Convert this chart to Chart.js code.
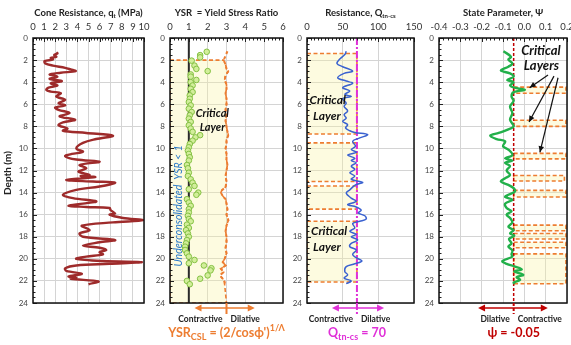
<!DOCTYPE html>
<html>
<head>
<meta charset="utf-8">
<script src="https://cdn.jsdelivr.net/npm/chart.js@4.4.1/dist/chart.umd.min.js"></script>
<style>
  html, body { margin: 0; padding: 0; background: #fff; }
  #wrap { position: relative; width: 571px; height: 345px; overflow: hidden; }
  #wrap canvas { position: absolute; left: 0; top: 0; }
</style>
</head>
<body>
<div id="wrap">
  <canvas id="p1" width="571" height="345"></canvas>
  <canvas id="p2" width="571" height="345"></canvas>
  <canvas id="p3" width="571" height="345"></canvas>
  <canvas id="p4" width="571" height="345"></canvas>
</div>
<script>
// ---------------- data ----------------
const DEPTH_TICKS = [0, 2, 4, 6, 8, 10, 12, 14, 16, 18, 20, 22, 24];

// Cone resistance qt (MPa) vs depth (m)
const QT_TICKS = [0, 1, 2, 3, 4, 5, 6, 7, 8, 9, 10];
const QT_DEPTH = [1.3,1.4,1.55,1.7,1.8,1.95,2.1,2.3,2.5,2.7,2.85,3.0,3.15,3.3,3.5,3.7,3.9,4.1,4.3,4.5,
  4.7,4.85,5.0,5.3,5.6,5.9,6.1,6.3,6.5,6.8,7.1,7.4,7.65,7.9,8.2,8.4,8.6,8.85,9.15,9.5,
  10.0,10.3,10.5,10.7,11.0,11.2,11.5,11.8,12.1,12.4,12.5,12.6,12.85,13.0,13.1,13.45,13.75,14.2,14.5,14.8,
  15.0,15.2,15.3,15.4,15.6,15.9,16.0,16.3,16.5,16.7,17.0,17.4,17.7,18.0,18.3,18.5,18.8,19.0,19.2,19.4,
  19.6,19.8,20.0,20.2,20.3,20.45,20.6,20.85,21.1,21.35,21.6,21.7,21.8,22.05,22.3];
const QT_MPA = [2.1,2.2,1.9,2.1,1.6,1.8,1.05,1.1,1.8,2.9,3.4,3.85,2.5,1.5,2.2,1.5,2.6,1.6,2.2,1.4,
  1.2,1.6,2.5,2.1,2.9,2.3,2.9,2.0,2.3,3.3,2.4,3.8,2.7,2.3,3.1,2.7,4.8,7.2,5.7,4.5,
  3.9,4.5,3.5,2.9,3.9,6.0,4.2,4.8,4.1,5.1,4.3,5.6,3.0,5.4,7.4,6.0,3.9,2.7,3.6,5.7,
  4.5,3.2,4.8,6.9,7.0,7.4,6.9,8.1,9.9,7.2,4.4,5.1,4.2,4.5,7.4,6.0,4.5,6.0,6.6,6.0,
  6.3,4.8,3.9,6.3,9.8,6.9,3.9,2.9,3.0,4.4,3.2,3.9,3.4,5.9,5.0];

// Yield stress ratio
const YSR_TICKS = [0, 1, 2, 3, 4, 5, 6];
const YSR_DEPTH = [1.25,1.55,1.75,2.05,2.5,2.8,3.0,3.3,3.5,3.8,4.0,4.3,4.6,4.9,5.2,5.5,5.8,6.1,6.4,6.7,
  7.0,7.3,7.6,7.9,8.2,8.5,8.8,9.0,9.3,9.6,9.9,10.2,10.5,10.8,11.1,11.5,11.8,12.2,12.5,12.8,
  13.1,13.4,13.7,14.0,14.2,14.6,14.9,15.2,15.5,15.8,16.1,16.4,16.6,16.9,17.2,17.4,17.7,18.0,18.3,18.6,
  18.9,19.2,19.5,19.8,20.1,20.4,20.6,20.85,21.05,21.5,21.8,22.0,22.3];
const YSR_VALUES = [1.95,1.6,1.6,1.15,1.3,1.4,2.0,1.1,1.1,1.4,1.1,1.2,1.1,1.2,1.05,1.05,1.0,1.1,1.0,1.15,
  1.05,1.0,1.1,1.0,1.1,1.2,1.6,1.35,1.2,1.05,1.0,0.95,1.0,1.05,1.0,0.9,0.95,1.0,0.95,1.1,
  1.2,1.3,1.0,1.5,1.4,0.9,1.0,1.1,1.0,1.0,0.95,1.0,1.1,0.9,1.0,0.85,0.95,1.0,0.9,0.85,
  0.8,0.8,0.9,1.0,1.3,1.0,1.8,2.2,2.15,2.0,1.6,0.9,1.05];
const YSR_CSL_DEPTH = [1.2,1.6,2.0,2.4,2.8,3.0,3.4,3.8,4.2,4.6,5.0,5.5,6.0,6.5,7.0,7.5,8.0,8.5,8.8,9.2,
  9.6,10.0,10.5,11.0,11.5,12.0,12.5,13.0,13.5,13.8,14.0,14.3,14.6,15.0,15.5,16.0,16.5,17.0,17.5,18.0,
  18.5,19.0,19.5,20.0,20.3,20.6,20.9,21.2,21.5,21.8,22.1,22.3];
const YSR_CSL_VALUES = [3.05,2.95,2.85,2.95,3.0,3.1,2.95,2.9,3.0,3.0,2.95,3.0,3.0,2.95,3.0,2.95,3.0,3.05,3.1,3.0,
  3.0,2.95,3.0,3.0,3.05,3.0,2.95,3.0,2.95,2.75,2.7,2.8,2.95,3.0,3.05,3.0,3.1,3.0,2.95,3.0,
  3.0,2.95,3.0,2.9,2.8,2.95,2.7,2.85,2.65,2.8,2.9,2.9];
const YSR_UNIT = 1;
const YSR_CSL = 3;
const YSR_LAYER = [2, 24];

// Normalized clean-sand equivalent resistance Qtn-cs
const QTN_TICKS = [0, 50, 100, 150];
const QTN_DEPTH = [1.2,1.5,1.9,2.3,2.6,3.0,3.2,3.6,3.9,4.1,4.5,4.8,5.1,5.3,5.5,5.9,6.2,6.6,6.95,7.25,
  7.55,7.85,8.15,8.4,8.55,8.75,9.05,9.35,9.8,10.1,10.35,10.6,10.9,11.1,11.3,11.6,11.9,12.2,12.5,12.8,
  13.0,13.1,13.3,13.75,14.05,14.5,14.8,15.1,15.3,15.6,15.85,16.1,16.4,16.6,16.8,17.2,17.5,17.8,18.0,18.3,
  18.6,18.9,19.2,19.6,19.9,20.2,20.45,20.7,21.15,21.45,21.75,22.0,22.25];
const QTN_VALUES = [55,53,46,42,50,64,52,43,55,64,50,60,53,62,50,55,52,57,52,55,
  50,57,54,60,67,85,74,64,68,62,69,57,67,62,69,62,67,60,67,62,
  74,78,68,60,55,62,69,57,69,76,72,81,83,74,64,67,60,69,62,71,
  62,60,69,64,69,77,67,55,53,57,52,62,55];
const QTN_CS = 70;
const QTN_LAYERS = [[1.4, 8.7], [9.5, 13.0], [13.4, 15.5], [16.6, 22.1]];

// State parameter psi
const PSI_TICKS = [-0.4, -0.3, -0.2, -0.1, 0, 0.1, 0.2];
const PSI_TICK_LABELS = ['-0.4', '-0.3', '-0.2', '-0.1', '0.0', '0.1', '0.2'];
const PSI_DEPTH = [1.2,1.7,1.96,2.3,2.6,2.95,3.2,3.5,3.8,4.0,4.3,4.5,4.7,4.9,5.3,5.7,6.2,6.8,7.4,8.0,
  8.3,8.6,8.85,9.15,9.35,9.8,10.1,10.6,10.9,11.1,11.3,11.6,12.0,12.4,12.7,13.0,13.3,13.6,13.9,14.2,
  14.4,14.65,15.0,15.4,15.7,16.0,16.3,16.7,17.1,17.4,17.7,17.9,18.2,18.6,18.9,19.25,19.6,19.8,20.2,20.45,
  20.7,20.95,21.15,21.45,21.65,21.9,22.15,22.25];
const PSI_VALUES = [-0.098,-0.062,-0.075,-0.056,-0.075,-0.11,-0.067,-0.05,-0.08,-0.05,-0.067,-0.047,0.003,-0.05,-0.06,-0.05,-0.067,-0.056,-0.067,-0.05,
  -0.078,-0.12,-0.16,-0.13,-0.09,-0.1,-0.075,-0.056,-0.09,-0.056,-0.09,-0.067,-0.083,-0.067,-0.09,-0.11,-0.075,-0.05,-0.044,-0.075,
  -0.09,-0.056,-0.09,-0.083,-0.06,-0.083,-0.067,-0.056,-0.075,-0.05,-0.067,-0.047,-0.072,-0.06,-0.075,-0.056,-0.06,-0.056,-0.103,-0.083,
  -0.044,-0.012,-0.047,-0.005,-0.036,-0.02,-0.05,-0.044];
const PSI_CS = -0.05;
// [top depth, bottom depth, right edge psi]
const PSI_LAYERS = [[4.45, 5.0, 0.195], [7.45, 8.0, 0.195], [10.45, 10.95, 0.195], [12.45, 12.95, 0.188],
  [13.8, 14.4, 0.195], [16.95, 17.45, 0.195], [17.7, 18.2, 0.195], [18.5, 19.0, 0.195], [19.55, 22.25, 0.195]];

// ---------------- styling / layout ----------------
const W = 571, H = 345;
const FONT = 'Lato, "Open Sans", "DejaVu Sans", sans-serif';
const YW = 28, XH = 16;
const TOP = 38, BOTTOM = 303;
const ORANGE = '#ED7D31';
const LAYER_FILL = 'rgba(250, 244, 160, 0.32)';
const MAGENTA = '#E030D8';
const RED = '#C00000';

const pts = (xs, ys) => xs.map((x, i) => ({ x, y: ys[i] }));

function layerSet(x0, x1, d0, d1) {
  return {
    data: [{ x: x0, y: d0 }, { x: x1, y: d0 }, { x: x1, y: d1 }, { x: x0, y: d1 }, { x: x0, y: d0 }],
    borderColor: ORANGE, borderWidth: 1.6, borderDash: [4, 2.5],
    backgroundColor: LAYER_FILL, fill: 'shape', pointRadius: 0, tension: 0, order: 5
  };
}

function vline(xv, color, width, dash) {
  return {
    data: [{ x: xv, y: 0 }, { x: xv, y: 24 }],
    borderColor: color, borderWidth: width, borderDash: dash || [],
    pointRadius: 0, fill: false, tension: 0, order: 2
  };
}

function drawRich(ctx, segs, x, y, size, weight, color, align) {
  const base = `${weight} ${size}px ${FONT}`;
  const small = `${weight} ${Math.round(size * 0.68)}px ${FONT}`;
  let w = 0;
  segs.forEach(s => { ctx.font = (s.sub || s.sup) ? small : base; w += ctx.measureText(s.t).width; });
  let cx = align === 'center' ? x - w / 2 : (align === 'right' ? x - w : x);
  ctx.fillStyle = color;
  ctx.textAlign = 'left';
  ctx.textBaseline = 'middle';
  segs.forEach(s => {
    ctx.font = (s.sub || s.sup) ? small : base;
    const dy = s.sub ? size * 0.32 : (s.sup ? -size * 0.38 : 0);
    ctx.fillText(s.t, cx, y + dy);
    cx += ctx.measureText(s.t).width;
  });
}

function arrowHead(ctx, x0, y0, x1, y1, len, half) {
  const a = Math.atan2(y1 - y0, x1 - x0);
  ctx.beginPath();
  ctx.moveTo(x1, y1);
  ctx.lineTo(x1 - len * Math.cos(a) + half * Math.sin(a), y1 - len * Math.sin(a) - half * Math.cos(a));
  ctx.lineTo(x1 - len * Math.cos(a) - half * Math.sin(a), y1 - len * Math.sin(a) + half * Math.cos(a));
  ctx.closePath();
  ctx.fill();
}

// Frame, ruler ticks, titles, labels and the contractive/dilative keys
const deco = {
  id: 'deco',
  afterDraw(chart, args, o) {
    const { ctx, chartArea: a, scales: { x, y } } = chart;
    ctx.save();

    // ruler ticks along the top and left edges
    ctx.strokeStyle = '#222';
    ctx.lineWidth = 1;
    const nx = Math.round((x.max - x.min) / o.minorX);
    for (let i = 0; i <= nx; i++) {
      const v = x.min + i * o.minorX;
      const px = Math.round(x.getPixelForValue(v)) + 0.5;
      const major = o.xTicks.some(t => Math.abs(t - v) < 1e-6);
      ctx.beginPath(); ctx.moveTo(px, a.top); ctx.lineTo(px, a.top + (major ? 4 : 2.5)); ctx.stroke();
    }
    for (let i = 0; i <= 48; i++) {
      const py = Math.round(y.getPixelForValue(i * 0.5)) + 0.5;
      ctx.beginPath(); ctx.moveTo(a.left, py); ctx.lineTo(a.left + (i % 4 === 0 ? 4 : 2.5), py); ctx.stroke();
    }

    // plot frame
    ctx.lineWidth = 1.5;
    ctx.strokeStyle = '#111';
    ctx.strokeRect(a.left, a.top, a.right - a.left, a.bottom - a.top);

    // axis title
    drawRich(ctx, o.title, (a.left + a.right) / 2, 13, 9.5, 'bold', '#222', 'center');

    if (o.depthTitle) {
      ctx.save();
      ctx.translate(8, 173);
      ctx.rotate(-Math.PI / 2);
      drawRich(ctx, [{ t: 'Depth (m)' }], 0, 0, 10, 'bold', '#222', 'center');
      ctx.restore();
    }

    // in-plot labels
    (o.texts || []).forEach(t => {
      const px = x.getPixelForValue(t.x), py = y.getPixelForValue(t.y);
      ctx.save();
      ctx.translate(px, py);
      if (t.rotate) ctx.rotate(t.rotate);
      ctx.font = t.font;
      ctx.fillStyle = t.color || '#111';
      ctx.textAlign = 'center';
      ctx.textBaseline = 'middle';
      ctx.fillText(t.text, 0, 0);
      ctx.restore();
    });

    // pointer arrows
    ctx.strokeStyle = '#111';
    ctx.fillStyle = '#111';
    ctx.lineWidth = 1.2;
    (o.arrows || []).forEach(r => {
      const x0 = x.getPixelForValue(r[0]), y0 = y.getPixelForValue(r[1]);
      const x1 = x.getPixelForValue(r[2]), y1 = y.getPixelForValue(r[3]);
      ctx.beginPath(); ctx.moveTo(x0, y0); ctx.lineTo(x1, y1); ctx.stroke();
      arrowHead(ctx, x0, y0, x1, y1, 6, 2.8);
    });

    // contractive / dilative key under the plot
    const k = o.key;
    if (k) {
      const xd = x.getPixelForValue(k.at);
      const xl = x.getPixelForValue(k.left), xr = x.getPixelForValue(k.right);
      const ya = a.bottom + 5;
      ctx.strokeStyle = k.color; ctx.fillStyle = k.color; ctx.lineWidth = 2;
      ctx.setLineDash(k.dash || []);
      ctx.beginPath(); ctx.moveTo(xd, a.bottom); ctx.lineTo(xd, a.bottom + 11); ctx.stroke();
      ctx.setLineDash([]);
      ctx.lineWidth = 1.5;
      ctx.beginPath(); ctx.moveTo(xl + 4, ya); ctx.lineTo(xr - 4, ya); ctx.stroke();
      arrowHead(ctx, xd, ya, xr, ya, 7, 3.5);
      arrowHead(ctx, xd, ya, xl, ya, 7, 3.5);
      drawRich(ctx, [{ t: k.leftLabel }], xd - 4, a.bottom + 16, 8.5, 'bold', '#222', 'right');
      drawRich(ctx, [{ t: k.rightLabel }], xd + 4, a.bottom + 16, 8.5, 'bold', '#222', 'left');
      drawRich(ctx, k.formula, xd, a.bottom + 30, 12.5, 'bold', k.color, 'center');
    }
    ctx.restore();
  }
};

function makePanel(id, left, right, xmin, xmax, xTicks, xLabels, datasets, deco_opts) {
  return new Chart(document.getElementById(id), {
    type: 'line',
    data: { datasets },
    options: {
      responsive: false,
      animation: false,
      events: [],
      layout: { padding: { left: left - YW, right: W - right, top: TOP - XH, bottom: H - BOTTOM } },
      plugins: { legend: { display: false }, tooltip: { enabled: false }, deco: deco_opts },
      scales: {
        x: {
          type: 'linear', position: 'top', min: xmin, max: xmax,
          afterBuildTicks: s => { s.ticks = xTicks.map(v => ({ value: v })); },
          afterFit: s => { s.height = XH; s.paddingLeft = 0; s.paddingRight = 0; },
          ticks: {
            autoSkip: false, maxRotation: 0, padding: 5, color: '#333',
            font: { family: FONT, size: 9.5 },
            callback: (v, i) => xLabels[i]
          },
          grid: { color: '#d4d4d4', lineWidth: 1, drawTicks: false },
          border: { display: false }
        },
        y: {
          type: 'linear', reverse: true, min: 0, max: 24,
          afterBuildTicks: s => { s.ticks = DEPTH_TICKS.map(v => ({ value: v })); },
          afterFit: s => { s.width = YW; s.paddingTop = 0; s.paddingBottom = 0; },
          ticks: { autoSkip: false, padding: 5, color: '#444', font: { family: FONT, size: 8 } },
          grid: { color: '#d4d4d4', lineWidth: 1, drawTicks: false },
          border: { display: false }
        }
      }
    },
    plugins: [deco]
  });
}

// ---- panel 1: cone resistance ----
makePanel('p1', 33, 144, 0, 10, QT_TICKS, QT_TICKS.map(String), [
  { data: pts(QT_MPA, QT_DEPTH), borderColor: '#9E2B2B', borderWidth: 2.4, pointRadius: 0,
    tension: 0.35, fill: false, order: 0 }
], {
  title: [{ t: 'Cone Resistance, q' }, { t: 't', sub: true }, { t: ' (MPa)' }],
  depthTitle: true, minorX: 0.25, xTicks: QT_TICKS
});

// ---- panel 2: yield stress ratio ----
const cslInLayer = pts(YSR_CSL_VALUES, YSR_CSL_DEPTH).filter(p => p.y >= YSR_LAYER[0]);
makePanel('p2', 170, 283, 0, 6, YSR_TICKS, YSR_TICKS.map(String), [
  {
    data: [{ x: 0, y: YSR_LAYER[0] }, ...cslInLayer, { x: YSR_CSL, y: YSR_LAYER[1] }, { x: 0, y: YSR_LAYER[1] }, { x: 0, y: YSR_LAYER[0] }],
    borderColor: ORANGE, borderWidth: 1.6, borderDash: [4, 2.5], backgroundColor: LAYER_FILL,
    fill: 'shape', pointRadius: 0, tension: 0, order: 5
  },
  vline(YSR_UNIT, '#2a2a2a', 2),
  { data: pts(YSR_CSL_VALUES, YSR_CSL_DEPTH), borderColor: ORANGE, borderWidth: 2, borderDash: [3, 2.5],
    pointRadius: 0, tension: 0, fill: false, order: 1 },
  { data: pts(YSR_VALUES, YSR_DEPTH), showLine: false, pointRadius: 2.8, pointBorderWidth: 1,
    pointBackgroundColor: '#d2ee9a', pointBorderColor: '#84c043', fill: false, order: 0 }
], {
  title: [{ t: 'YSR  = Yield Stress Ratio' }], minorX: 0.2, xTicks: YSR_TICKS,
  texts: [
    { text: 'Critical', x: 2.25, y: 6.8, font: `italic bold 11px ${FONT}` },
    { text: 'Layer', x: 2.25, y: 8.1, font: `italic bold 11px ${FONT}` },
    { text: 'Underconsolidated  YSR < 1', x: 0.48, y: 15.2, font: `italic 10.5px ${FONT}`, color: '#2878C8', rotate: -Math.PI / 2 }
  ],
  key: { at: YSR_CSL, left: 1.3, right: 4.5, color: ORANGE, leftLabel: 'Contractive', rightLabel: 'Dilative',
    formula: [{ t: 'YSR' }, { t: 'CSL', sub: true }, { t: ' = (2/cos\u03D5\')' }, { t: '1/\u039B', sup: true }] }
});

// ---- panel 3: normalized resistance ----
makePanel('p3', 307, 414, 0, 150, QTN_TICKS, QTN_TICKS.map(String), [
  ...QTN_LAYERS.map(l => layerSet(0, QTN_CS, l[0], l[1])),
  vline(QTN_CS, MAGENTA, 2, [7, 2, 2, 2]),
  { data: pts(QTN_VALUES, QTN_DEPTH), borderColor: '#3A62D0', borderWidth: 1.5, pointRadius: 0,
    tension: 0.35, fill: false, order: 0 }
], {
  title: [{ t: 'Resistance, Q' }, { t: 'tn-cs', sub: true }], minorX: 5, xTicks: QTN_TICKS,
  texts: [
    { text: 'Critical', x: 29, y: 5.6, font: `italic bold 12px ${FONT}` },
    { text: 'Layer', x: 28, y: 7.1, font: `italic bold 12px ${FONT}` },
    { text: 'Critical', x: 31, y: 17.5, font: `italic bold 12px ${FONT}` },
    { text: 'Layer', x: 28, y: 18.95, font: `italic bold 12px ${FONT}` }
  ],
  key: { at: QTN_CS, left: 35, right: 108, color: MAGENTA, dash: [7, 2, 2, 2], leftLabel: 'Contractive', rightLabel: 'Dilative',
    formula: [{ t: 'Q' }, { t: 'tn-cs', sub: true }, { t: ' = 70' }] }
});

// ---- panel 4: state parameter ----
makePanel('p4', 439, 567, -0.4, 0.2, PSI_TICKS, PSI_TICK_LABELS, [
  ...PSI_LAYERS.map(l => layerSet(PSI_CS, l[2], l[0], l[1])),
  vline(PSI_CS, RED, 1.5, [3, 2]),
  { data: pts(PSI_VALUES, PSI_DEPTH), borderColor: '#22B04A', borderWidth: 2.4, pointRadius: 0,
    tension: 0.35, fill: false, order: 0 }
], {
  title: [{ t: 'State Parameter, \u03A8' }], minorX: 0.02, xTicks: PSI_TICKS,
  texts: [
    { text: 'Critical', x: 0.078, y: 1.2, font: `italic bold 13px ${FONT}` },
    { text: 'Layers', x: 0.08, y: 2.55, font: `italic bold 13px ${FONT}` }
  ],
  arrows: [
    [0.111, 3.35, 0.025, 4.5],
    [0.139, 3.45, 0.022, 7.6],
    [0.158, 3.6, 0.073, 10.35]
  ],
  key: { at: PSI_CS, left: -0.217, right: 0.11, color: RED, dash: [3, 2], leftLabel: 'Dilative', rightLabel: 'Contractive',
    formula: [{ t: '\u03C8 = -0.05' }] }
});
</script>
</body>
</html>
